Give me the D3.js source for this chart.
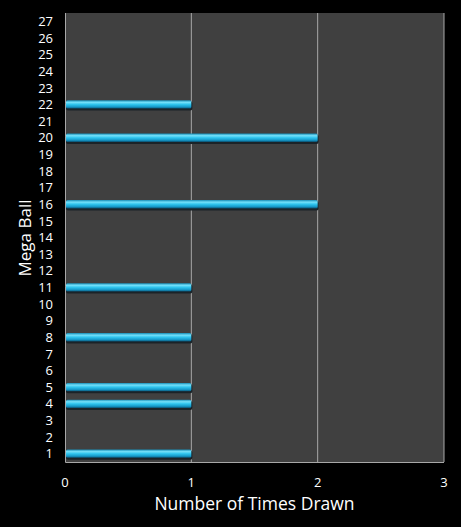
<!DOCTYPE html>
<html>
<head>
<meta charset="utf-8">
<script src="https://cdn.jsdelivr.net/npm/d3@7"></script>
<style>
  body { margin: 0; background: #000; }
  text { font-family: "Open Sans", "DejaVu Sans", sans-serif; fill: #fff; }
</style>
</head>
<body>
<div class="chart"></div>
<script>
// mega ball numbers and how often each was drawn
var balls = d3.range(1, 28);
var drawnBalls = [1, 4, 5, 8, 11, 16, 20, 22];
var timesDrawn = [1, 1, 1, 1, 1, 2, 2, 1];
var xTicks = [0, 1, 2, 3];

var m = {top: 13, right: 17, bottom: 65, left: 65};
var w_view = 461, h_view = 527;
var w_chart = w_view - m.left - m.right;
var h_chart = h_view - m.top - m.bottom;

var svg = d3.select(".chart").append("svg")
  .attr("width", w_view)
  .attr("height", h_view)
  .style("background", "#000");

// gradient for the glossy bars
var grad = svg.append("defs").append("linearGradient")
  .attr("id", "barGrad")
  .attr("x1", 0).attr("y1", 0).attr("x2", 0).attr("y2", 1);
grad.append("stop").attr("offset", "0%").attr("stop-color", "#1a8fb8");
grad.append("stop").attr("offset", "25%").attr("stop-color", "#74e0fa");
grad.append("stop").attr("offset", "50%").attr("stop-color", "#2fc4ee");
grad.append("stop").attr("offset", "80%").attr("stop-color", "#1598c8");
grad.append("stop").attr("offset", "100%").attr("stop-color", "#0b4f6e");

var x = d3.scaleLinear().domain([0, 3]).range([m.left, m.left + w_chart]);
var y = d3.scaleBand()
  .domain(balls)
  .range([m.top + h_chart, m.top])
  .paddingInner(0.5)
  .paddingOuter(0.25);

// plot background
svg.append("rect")
  .attr("x", m.left).attr("y", m.top)
  .attr("width", w_chart).attr("height", h_chart)
  .style("fill", "#404040");

// vertical grid lines
svg.append("g")
  .selectAll("line")
  .data(xTicks.slice(1))
  .join("line")
  .attr("x1", d => x(d)).attr("x2", d => x(d))
  .attr("y1", m.top).attr("y2", m.top + h_chart)
  .style("stroke", "#a8a8a8")
  .style("stroke-width", 1);

// left and bottom axis lines
svg.append("path")
  .attr("d", "M" + (m.left + 0.5) + "," + m.top + "V" + (m.top + h_chart + 0.5) + "H" + (m.left + w_chart))
  .style("fill", "none")
  .style("stroke", "#a8a8a8");

var data = drawnBalls.map((b, i) => ({ball: b, n: timesDrawn[i]}));

// bar shadow
svg.append("g")
  .selectAll("rect")
  .data(data)
  .join("rect")
  .attr("x", x(0) + 1)
  .attr("y", d => y(d.ball) + 1)
  .attr("width", d => x(d.n) - x(0))
  .attr("height", y.bandwidth() + 1)
  .attr("rx", 2)
  .style("fill", "#1b2328");

// bars
svg.append("g")
  .selectAll("rect")
  .data(data)
  .join("rect")
  .attr("x", x(0) + 1)
  .attr("y", d => y(d.ball))
  .attr("width", d => x(d.n) - x(0) - 1)
  .attr("height", y.bandwidth())
  .attr("rx", 1.5)
  .style("fill", "url(#barGrad)");

// y tick labels
svg.append("g")
  .selectAll("text")
  .data(balls)
  .join("text")
  .attr("x", 53)
  .attr("y", d => y(d) + y.bandwidth() / 2)
  .attr("dy", "0.36em")
  .style("text-anchor", "end")
  .style("font-size", "13px")
  .text(d => d);

// x tick labels
svg.append("g")
  .selectAll("text")
  .data(xTicks)
  .join("text")
  .attr("x", d => x(d))
  .attr("y", 487)
  .style("text-anchor", "middle")
  .style("font-size", "13px")
  .text(d => d);

// axis titles
svg.append("text")
  .attr("x", m.left + w_chart / 2)
  .attr("y", 510)
  .style("text-anchor", "middle")
  .style("font-size", "17.5px")
  .text("Number of Times Drawn");

svg.append("text")
  .attr("transform", "rotate(-90)")
  .attr("x", -238)
  .attr("y", 31)
  .style("text-anchor", "middle")
  .style("font-size", "17px")
  .text("Mega Ball");
</script>
</body>
</html>
